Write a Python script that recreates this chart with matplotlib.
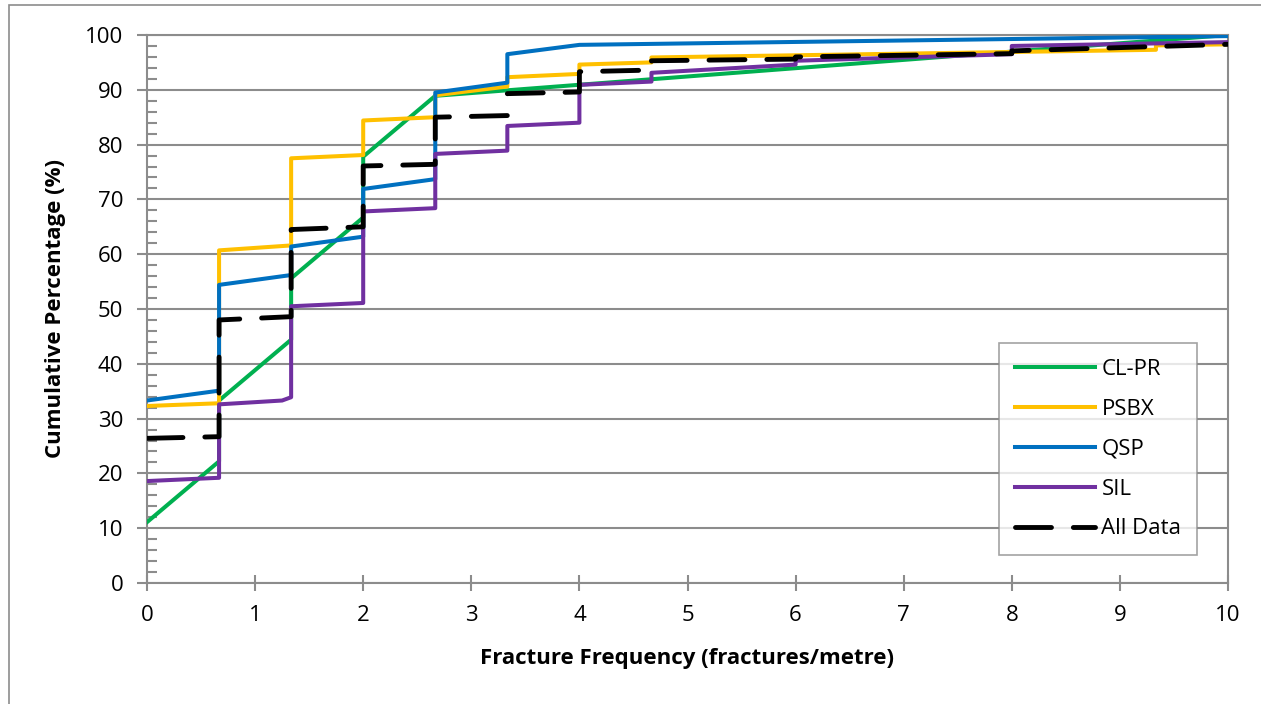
import matplotlib
matplotlib.use("Agg")
import matplotlib.pyplot as plt
from matplotlib.patches import Rectangle
from matplotlib.ticker import MultipleLocator

# Cumulative curves (x in fractures/metre, y in %)
s = 2 / 3

clpr_x = [0, s, s, 2 * s, 2 * s, 2, 2, 4 * s, 10]
clpr_y = [11.1, 22.2, 33.3, 44.4, 55.6, 66.7, 77.8, 88.9, 100.0]

psbx_x = [0, s, s, 2 * s, 2 * s, 2, 2, 4 * s, 4 * s, 5 * s, 5 * s, 4, 4, 7 * s, 7 * s, 14 * s, 14 * s, 10]
psbx_y = [32.3, 32.8, 60.7, 61.6, 77.5, 78.1, 84.4, 85.0, 89.0, 90.6, 92.3, 92.9, 94.6, 95.0, 95.9, 97.3, 98.1, 98.3]

qsp_x = [0, s, s, 2 * s, 2 * s, 2, 2, 4 * s, 4 * s, 5 * s, 5 * s, 4, 10]
qsp_y = [33.3, 35.1, 54.4, 56.2, 61.4, 63.2, 71.9, 73.7, 89.5, 91.3, 96.5, 98.2, 99.8]

sil_x = [0, s, s, 1.25, 2 * s, 2 * s, 2, 2, 4 * s, 4 * s, 5 * s, 5 * s, 4, 4, 7 * s, 7 * s, 6, 6, 8, 8, 10]
sil_y = [18.6, 19.2, 32.6, 33.3, 33.9, 50.5, 51.1, 67.8, 68.4, 78.3, 78.9, 83.4, 84.0, 90.9, 91.5, 93.1, 94.6, 95.3, 96.5, 98.0, 98.7]

all_x = [0, s, s, 2 * s, 2 * s, 2, 2, 4 * s, 4 * s, 5 * s, 5 * s, 4, 4, 7 * s, 7 * s, 6, 6, 8, 8, 10]
all_y = [26.4, 26.7, 48.0, 48.6, 64.5, 65.0, 76.1, 76.4, 85.0, 85.3, 89.3, 89.6, 93.3, 93.6, 95.3, 95.6, 96.0, 96.6, 97.1, 98.3]

plt.rcParams["font.family"] = ["Open Sans", "DejaVu Sans"]
grey = "#8c8c8c"

fig = plt.figure(figsize=(12.61, 7.04), dpi=100)
ax = fig.add_axes([147 / 1261, 1 - 583 / 704, (1228 - 147) / 1261, (583 - 35) / 704])

# outer chart border
fig.patches.append(Rectangle((9 / 1261, -0.1), 1.2, 1.1 - 5 / 704, transform=fig.transFigure,
                             fill=False, edgecolor=grey, linewidth=1.2))

lw = 2.9
ax.plot(clpr_x, clpr_y, color="#00B050", lw=lw, label="CL-PR", solid_joinstyle="round", zorder=3)
ax.plot(psbx_x, psbx_y, color="#FFC000", lw=lw, label="PSBX", solid_joinstyle="round", zorder=3)
ax.plot(qsp_x, qsp_y, color="#0070C0", lw=lw, label="QSP", solid_joinstyle="round", zorder=3)
ax.plot(sil_x, sil_y, color="#7030A0", lw=lw, label="SIL", solid_joinstyle="round", zorder=3)
ax.plot(all_x, all_y, color="black", lw=3.5, dashes=(7.4, 4.5), dash_capstyle="round",
        label="All Data", zorder=4)

ax.set_xlim(0, 10)
ax.set_ylim(0, 100)
ax.xaxis.set_major_locator(MultipleLocator(1))
ax.yaxis.set_major_locator(MultipleLocator(10))
ax.yaxis.set_minor_locator(MultipleLocator(2))
ax.grid(True, axis="y", which="major", color=grey, lw=1.5, zorder=1)

for sp in ax.spines.values():
    sp.set_color(grey)
    sp.set_linewidth(1.5)

ax.tick_params(axis="x", which="major", direction="inout", length=12, width=1.5, color=grey,
               labelsize=16, pad=10)
ax.tick_params(axis="y", which="major", direction="out", length=7, width=1.5, color=grey,
               labelsize=16, pad=10)
ax.tick_params(axis="y", which="minor", direction="in", length=7, width=1.5, color=grey)

ax.set_xlabel("Fracture Frequency (fractures/metre)", fontsize=16, fontweight="bold", labelpad=16)
ax.set_ylabel("Cumulative Percentage (%)", fontsize=16, fontweight="bold", labelpad=14)

leg = ax.legend(loc="lower right", bbox_to_anchor=(1050 / 1081, 28 / 548), fontsize=16,
                frameon=True, fancybox=False, handlelength=3.6, handletextpad=0.3,
                labelspacing=0.85, borderpad=0.7, borderaxespad=0)
leg.get_frame().set_edgecolor(grey)
leg.get_frame().set_linewidth(1.2)

fig.savefig("out.png", dpi=100)
